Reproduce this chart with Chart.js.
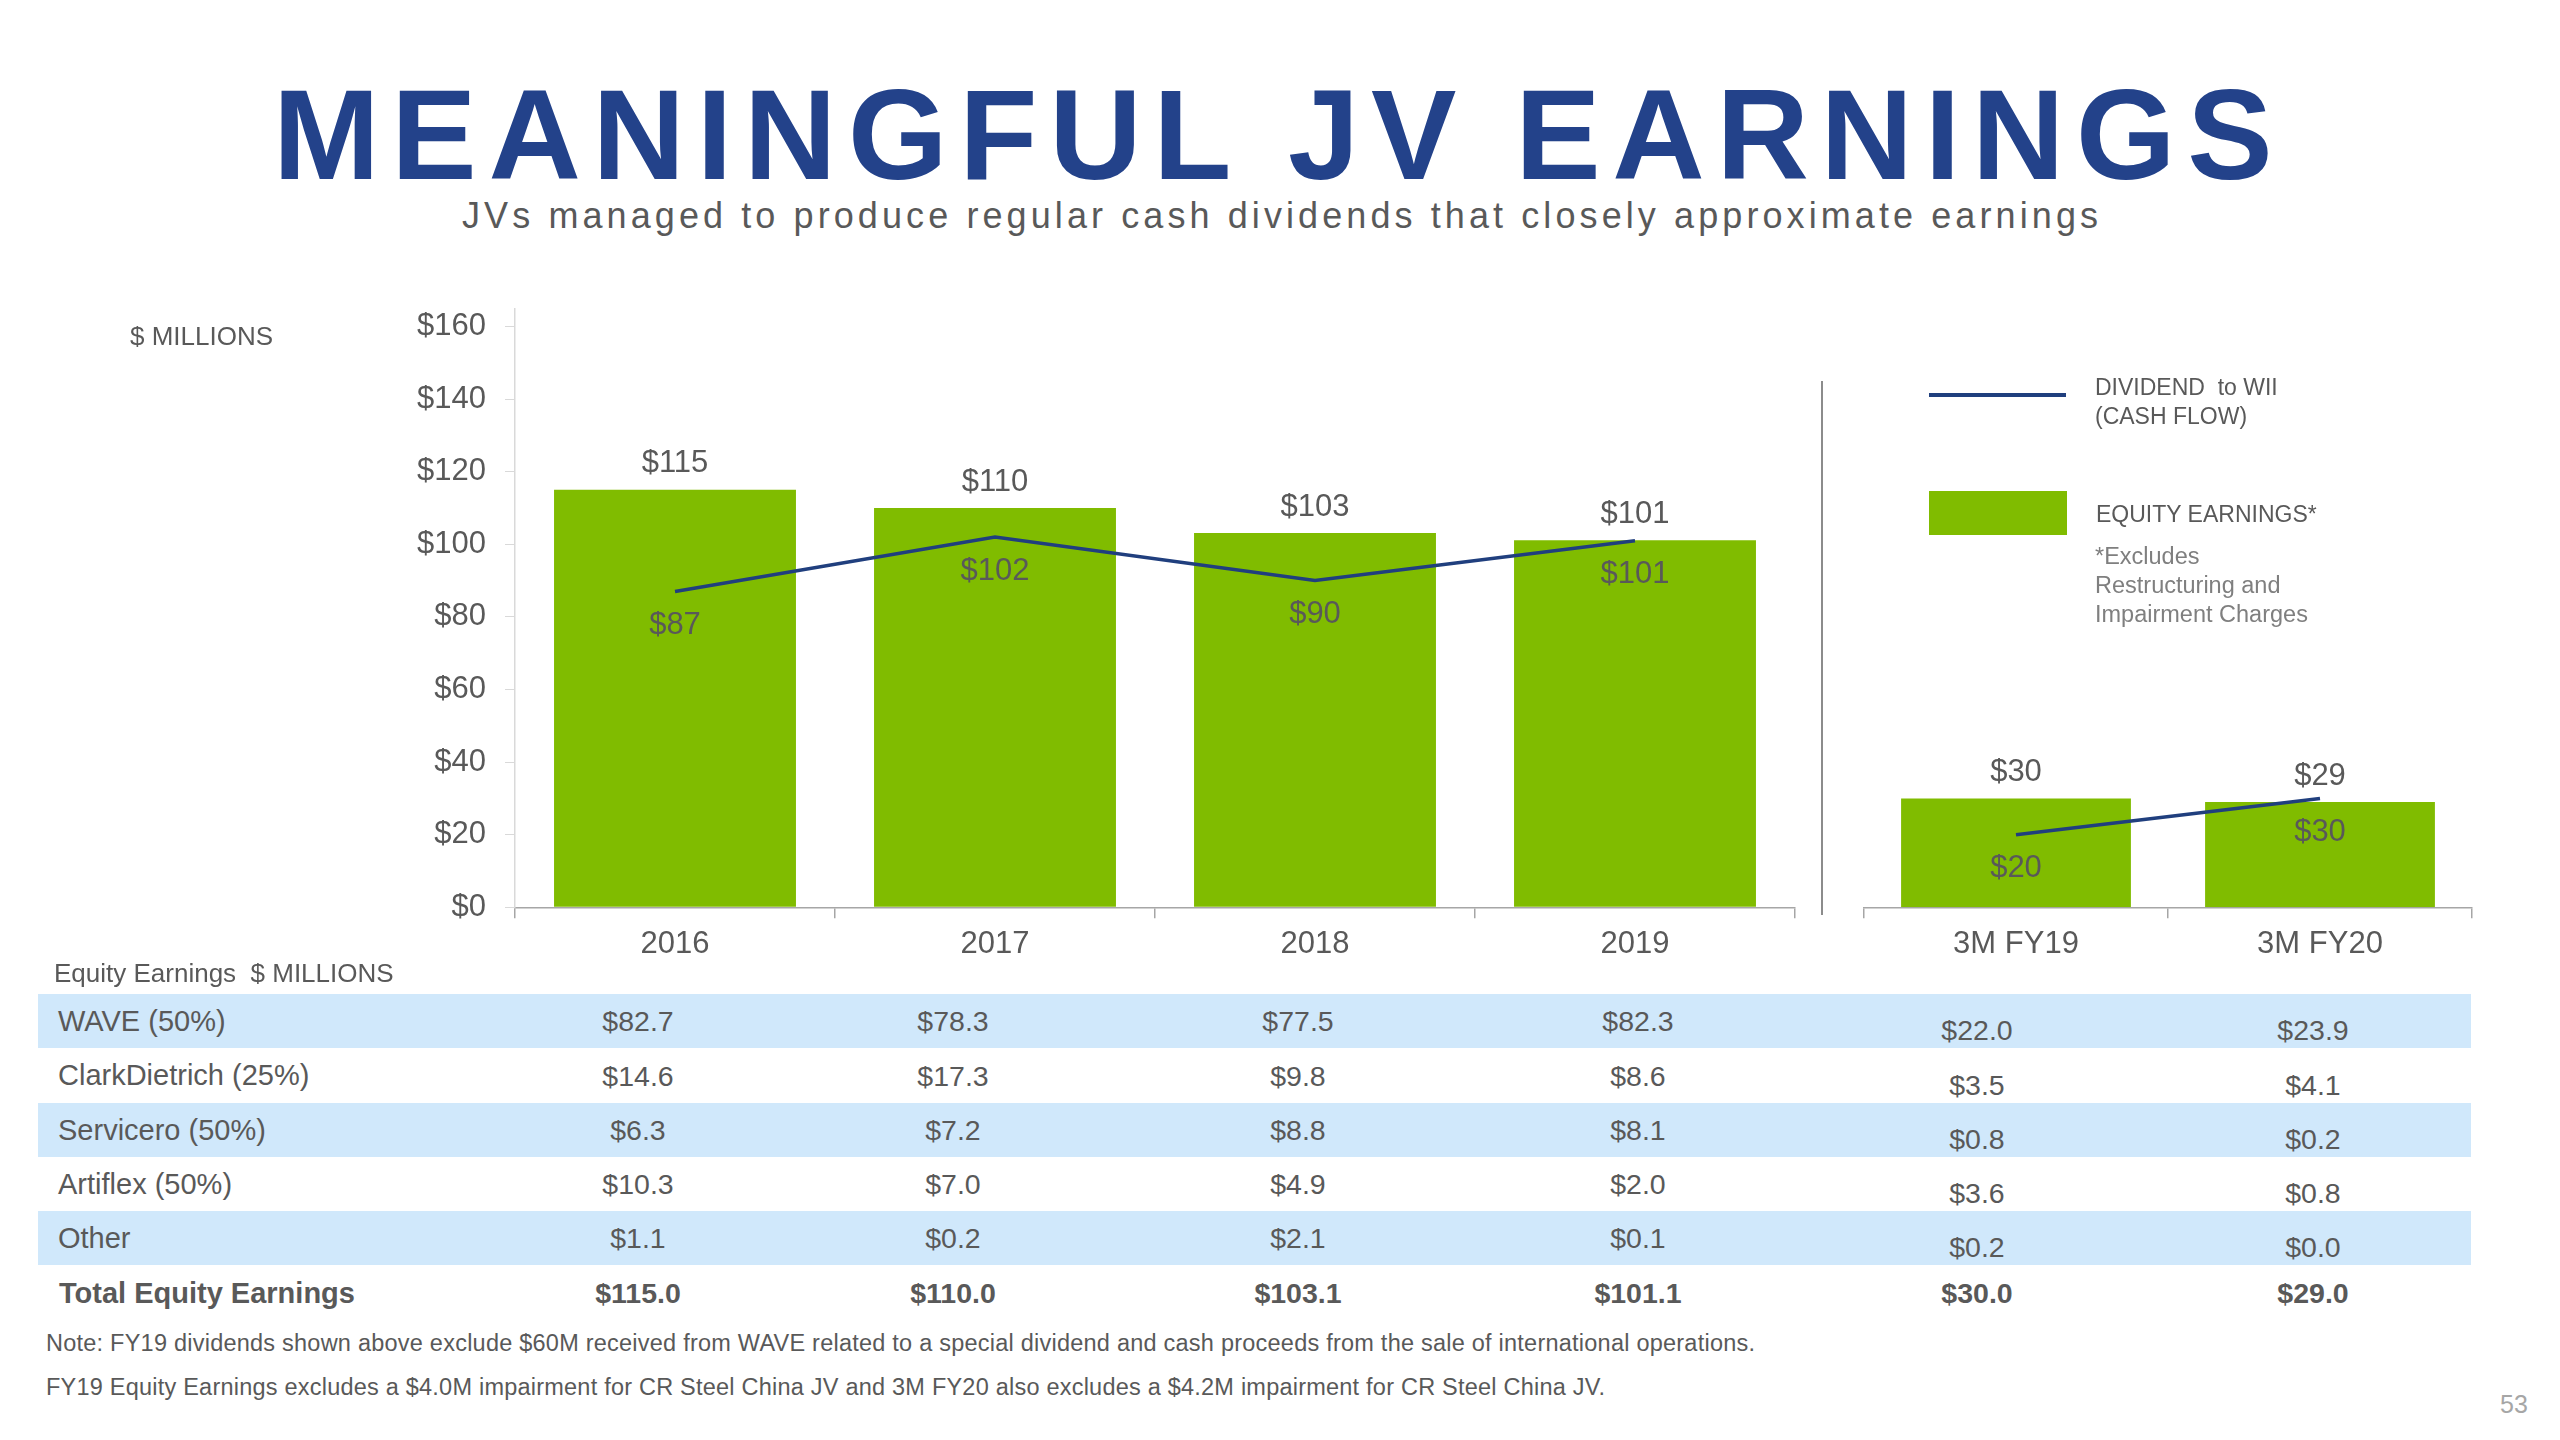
<!DOCTYPE html>
<html>
<head>
<meta charset="utf-8">
<script src="https://cdn.jsdelivr.net/npm/chart.js@4.4.1/dist/chart.umd.min.js"></script>
<style>
  html, body { margin:0; padding:0; background:#ffffff; }
  #stage { position:relative; width:2560px; height:1440px; overflow:hidden; background:#fff;
           font-family:"Liberation Sans", Arial, Helvetica, sans-serif; color:#595959; }
  .t { position:absolute; white-space:pre; }
  canvas { position:absolute; }
</style>
</head>
<body>
<div id="stage">
  <canvas id="cLeft" width="1810" height="720" style="left:0px;top:270px;width:1810px;height:720px"></canvas>
  <canvas id="cRight" width="670" height="700" style="left:1830px;top:290px;width:670px;height:700px"></canvas>
</div>
<script>
// ---------------- DATA ----------------
const titleText = "MEANINGFUL JV EARNINGS";
const subtitleText = "JVs managed to produce regular cash dividends that closely approximate earnings";
const yearCats = ["2016", "2017", "2018", "2019"];
const quarterCats = ["3M FY19", "3M FY20"];
const earningsYears = [115.0, 110.0, 103.1, 101.1];
const earningsQuarters = [30.0, 29.0];
const dividendYears = [87, 102, 90, 101];
const dividendQuarters = [20, 30];
const yTickValues = [0, 20, 40, 60, 80, 100, 120, 140, 160];

const jvNames = ["WAVE (50%)", "ClarkDietrich (25%)", "Servicero (50%)", "Artiflex (50%)", "Other"];
const waveEq = [82.7, 78.3, 77.5, 82.3, 22.0, 23.9];
const clarkDietrichEq = [14.6, 17.3, 9.8, 8.6, 3.5, 4.1];
const serviceroEq = [6.3, 7.2, 8.8, 8.1, 0.8, 0.2];
const artiflexEq = [10.3, 7.0, 4.9, 2.0, 3.6, 0.8];
const otherEq = [1.1, 0.2, 2.1, 0.1, 0.2, 0.0];
const totalLabel = "Total Equity Earnings";
const totalEq = [115.0, 110.0, 103.1, 101.1, 30.0, 29.0];

const legendLine = ["DIVIDEND  to WII", "(CASH FLOW)"];
const legendBar = "EQUITY EARNINGS*";
const legendNote = ["*Excludes", "Restructuring and", "Impairment Charges"];
const notes = [
  "Note: FY19 dividends shown above exclude $60M received from WAVE related to a special dividend and cash proceeds from the sale of international operations.",
  "FY19 Equity Earnings excludes a $4.0M impairment for CR Steel China JV and 3M FY20 also excludes a $4.2M impairment for CR Steel China JV."
];

// ---------------- STYLE / LAYOUT ----------------
const FONT = '"Liberation Sans", Arial, Helvetica, sans-serif';
const GREEN = "#80BC00";
const NAVY = "#203F7E";
const GRAY = "#595959";
const BAND = "#D0E8FB";
const stage = document.getElementById("stage");

function txt(str, x, cy, size, opts = {}) {
  const d = document.createElement("div");
  d.className = "t";
  d.textContent = str;
  d.style.fontSize = size + "px";
  d.style.lineHeight = size + "px";
  d.style.top = (cy - 0.4865 * size) + "px";
  if (opts.bold) d.style.fontWeight = "bold";
  if (opts.color) d.style.color = opts.color;
  if (opts.align === "center") {
    d.style.left = (x - 300) + "px"; d.style.width = "600px"; d.style.textAlign = "center";
  } else {
    d.style.left = x + "px";
  }
  stage.appendChild(d);
  return d;
}
function fitSpacing(el, str, size, bold, target) {
  const c = document.createElement("canvas").getContext("2d");
  c.font = (bold ? "bold " : "") + size + "px " + FONT;
  const w = c.measureText(str).width;
  el.style.letterSpacing = ((target - w) / (str.length - 1)) + "px";
}

// Title & subtitle
const tEl = txt(titleText, 273, 133, 128, { bold: true, color: "#23428A" });
fitSpacing(tEl, titleText, 128, true, 2002);
const sEl = txt(subtitleText, 462, 216, 36, { color: GRAY });
fitSpacing(sEl, subtitleText, 36, false, 1636);

// Axis unit label
txt("$ MILLIONS", 130, 336, 26);

// Legend
const ll = document.createElement("div");
Object.assign(ll.style, { position: "absolute", left: "1929px", top: "393px", width: "137px", height: "4px", background: NAVY });
stage.appendChild(ll);
const lr = document.createElement("div");
Object.assign(lr.style, { position: "absolute", left: "1929px", top: "491px", width: "138px", height: "44px", background: GREEN });
stage.appendChild(lr);
txt(legendLine[0], 2095, 387, 23);
txt(legendLine[1], 2095, 416, 23);
txt(legendBar, 2096, 514, 23);
legendNote.forEach((s, i) => txt(s, 2095, 556 + i * 29, 23.5, { color: "#7F7F7F" }));

// Separator between panels
const sep = document.createElement("div");
Object.assign(sep.style, { position: "absolute", left: "1821px", top: "381px", width: "1.5px", height: "534px", background: "#8C8C8C" });
stage.appendChild(sep);

// Table
txt("Equity Earnings  $ MILLIONS", 54, 973, 26);
const colCenters = [638, 953, 1298, 1638, 1977, 2313];
const rowsData = [waveEq, clarkDietrichEq, serviceroEq, artiflexEq, otherEq];
const rowTop = 994, rowH = 54.3;
rowsData.forEach((vals, r) => {
  const top = rowTop + r * rowH;
  if (r % 2 === 0) {
    const b = document.createElement("div");
    Object.assign(b.style, { position: "absolute", left: "38px", top: top + "px", width: "2433px", height: rowH + "px", background: BAND });
    stage.appendChild(b);
  }
  const cy = top + rowH / 2;
  txt(jvNames[r], 58, cy, 29);
  vals.forEach((v, c) => txt("$" + v.toFixed(1), colCenters[c], cy + (c >= 4 ? 9 : 0), 28.5, { align: "center" }));
});
{
  const cy = rowTop + 5 * rowH + rowH / 2;
  txt(totalLabel, 59, cy, 29, { bold: true });
  totalEq.forEach((v, c) => txt("$" + v.toFixed(1), colCenters[c], cy, 28.5, { align: "center", bold: true }));
}
const n1 = txt(notes[0], 46, 1343, 23.5);
fitSpacing(n1, notes[0], 23.5, false, 1709);
const n2 = txt(notes[1], 46, 1387, 23.5);
fitSpacing(n2, notes[1], 23.5, false, 1559);
txt("53", 2500, 1404, 25, { color: "#A6A6A6" });

// ---------------- CHARTS ----------------
const labelPlugin = {
  id: "valueLabels",
  afterDatasetsDraw(chart) {
    const ctx = chart.ctx;
    ctx.save();
    ctx.font = "31px " + FONT;
    ctx.fillStyle = GRAY;
    ctx.textAlign = "center";
    ctx.textBaseline = "middle";
    chart.data.datasets.forEach((ds, i) => {
      const meta = chart.getDatasetMeta(i);
      meta.data.forEach((el, j) => {
        const v = ds.data[j];
        const s = "$" + Math.round(v);
        if (ds.type === "bar") ctx.fillText(s, el.x, el.y - 26);
        else ctx.fillText(s, el.x, el.y + 34);
      });
    });
    ctx.restore();
  }
};

const PXU = 3.63;          // pixels per unit
const YMAX = 165;
const BASE_Y = 907.3;      // page y of the value 0
const PLOT_TOP = BASE_Y - YMAX * PXU;

function makeChart(id, cats, bars, lines, showY, padL, padR, canvasTop, canvasH) {
  const yScale = {
    display: showY,
    min: 0, max: YMAX,
    afterBuildTicks: (axis) => { axis.ticks = yTickValues.map(v => ({ value: v })); },
    ticks: { font: { family: FONT, size: 31 }, color: GRAY, padding: 19, callback: (v) => "$" + v },
    grid: { display: true, drawOnChartArea: false, drawTicks: true, tickLength: 10, color: "#D9D9D9" },
    border: { display: true, color: "#D9D9D9", width: 1.5 }
  };
  if (showY) yScale.afterFit = (s) => { s.width = 515; };
  const xH = canvasH - (BASE_Y - canvasTop);
  return new Chart(document.getElementById(id), {
    type: "bar",
    data: {
      labels: cats,
      datasets: [
        { type: "line", data: lines, borderColor: NAVY, borderWidth: 3.5, pointRadius: 0, tension: 0, order: 0, fill: false },
        { type: "bar", data: bars, backgroundColor: GREEN, categoryPercentage: 1.0, barPercentage: 0.756, order: 1 }
      ]
    },
    options: {
      responsive: false, animation: false, devicePixelRatio: 1,
      layout: { padding: { left: padL, right: padR, top: PLOT_TOP - canvasTop, bottom: 0 } },
      plugins: { legend: { display: false }, tooltip: { enabled: false } },
      scales: {
        x: {
          offset: true,
          grid: { display: true, offset: true, drawOnChartArea: false, drawTicks: true, tickLength: 11, color: "#A6A6A6", lineWidth: 1.5 },
          border: { display: true, color: "#A6A6A6", width: 1.5 },
          ticks: { font: { family: FONT, size: 31 }, color: GRAY, padding: 8, maxRotation: 0 },
          afterFit: (s) => { s.height = xH; }
        },
        y: yScale
      }
    },
    plugins: [labelPlugin]
  });
}

makeChart("cLeft", yearCats, earningsYears, dividendYears, true, 0, 15, 270, 720);
makeChart("cRight", quarterCats, earningsQuarters, dividendQuarters, false, 34, 28, 290, 700);
</script>
</body>
</html>
